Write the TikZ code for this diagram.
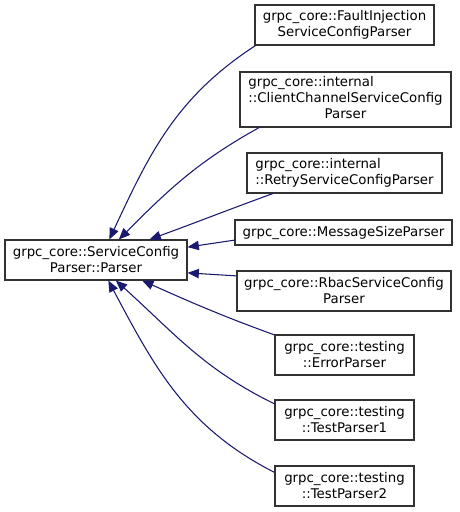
\documentclass[tikz,border=0pt]{standalone}
\usepackage{fontspec}
\setmainfont{DejaVu Sans}
\usepackage{xcolor}
\usepackage{tikz}
\usetikzlibrary{arrows.meta, positioning}
\definecolor{edgeblue}{RGB}{25,25,112}
\definecolor{boxline}{RGB}{50,50,50}

\tikzset{
    classbox/.style={
        draw=boxline,
        line width=0.8pt,
        fill=white,
        align=center,
        inner sep=2pt,
        minimum height=30pt,
        font=\fontsize{10}{12}\selectfont
    },
    inherit/.style={
        draw=edgeblue,
        line width=0.8pt,
        {Triangle[length=8.5pt,width=7pt]}-
    }
}

\begin{document}
\begin{tikzpicture}[x=0.75pt, y=0.75pt]

        % page frame of the graph
        \useasboundingbox (0,0) rectangle (460,-512);

        % base class
        \node[classbox, minimum width=136.5pt]
        (base) at (96,-260)
        {grpc\_core::ServiceConfig\\Parser::Parser};

        % derived parsers
        \node[classbox, minimum width=134.25pt]
        (fault) at (344.5,-25)
        {grpc\_core::FaultInjection\\ServiceConfigParser};

        \node[classbox, minimum width=158.25pt, minimum height=41.25pt]
        (client) at (345.5,-99.5)
        {\begin{tabular}{@{}l@{}}
            grpc\_core::internal\\
            ::ClientChannelServiceConfig\\
            \multicolumn{1}{@{}c@{}}{Parser}
        \end{tabular}};

        \node[classbox, align=left, minimum width=146.25pt]
        (retry) at (344.5,-173)
        {grpc\_core::internal\\::RetryServiceConfigParser};

        \node[classbox, minimum width=162.75pt, minimum height=18.75pt]
        (msgsize) at (343.5,-232.5)
        {grpc\_core::MessageSizeParser};

        \node[classbox, minimum width=160.5pt]
        (rbac) at (344,-291)
        {grpc\_core::RbacServiceConfig\\Parser};

        \node[classbox, minimum width=104.25pt]
        (error) at (344.5,-355)
        {grpc\_core::testing\\::ErrorParser};

        \node[classbox, minimum width=104.25pt]
        (test1) at (344.5,-420)
        {grpc\_core::testing\\::TestParser1};

        \node[classbox, minimum width=104.25pt]
        (test2) at (344.5,-486)
        {grpc\_core::testing\\::TestParser2};

        % inheritance edges, arrow at the base class
        \draw[inherit] (base.57) to[out=65, in=213] (fault.193);
        \draw[inherit] (base.42) to[out=45, in=209] (client.198);
        \draw[inherit] (base.21) to[out=20, in=200] (retry.196);
        \draw[inherit] (base.8) -- (msgsize.184);
        \draw[inherit] (base.-8) -- (rbac.172);
        \draw[inherit] (base.-24) to[out=-24, in=160] (error.164);
        \draw[inherit] (base.-46) to[out=-42, in=154] (test1.167);
        \draw[inherit] (base.-59) to[out=-62, in=153] (test2.169);

    \end{tikzpicture}
\end{document}
